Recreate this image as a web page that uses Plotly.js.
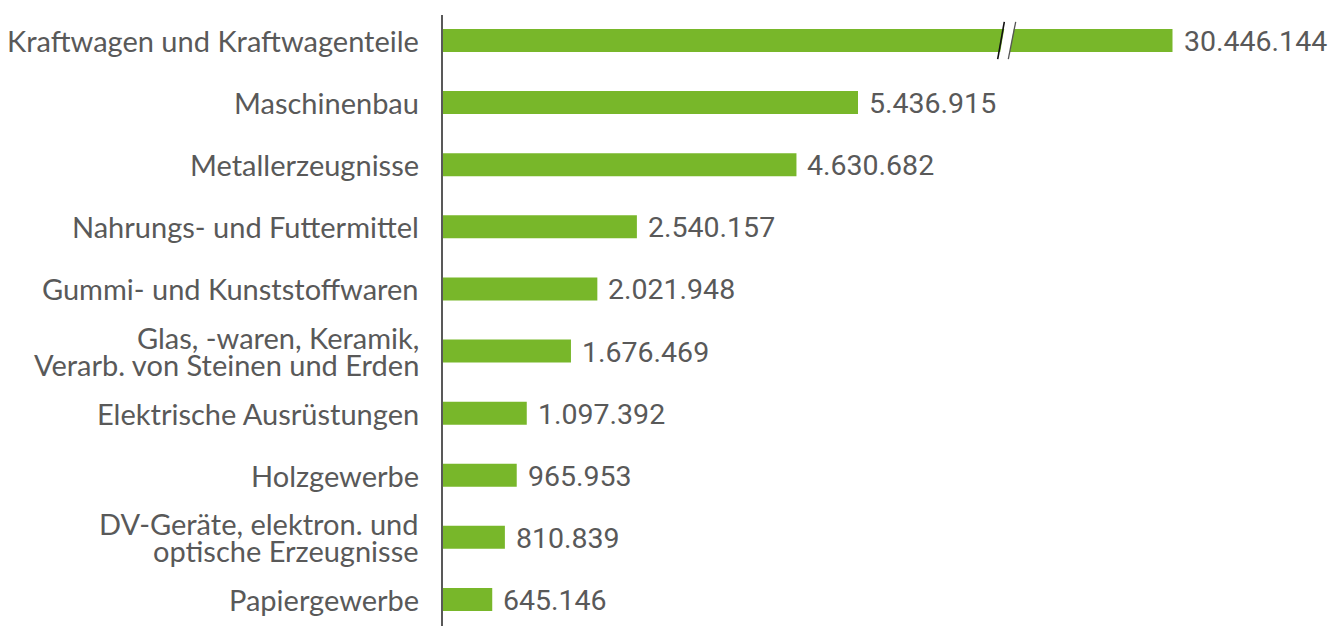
<!DOCTYPE html>
<html>
<head>
<meta charset="utf-8">
<script src="https://cdn.plot.ly/plotly-3.0.1.min.js"></script>
<style>html,body{margin:0;padding:0;background:#fff;}#chart{width:1341px;height:626px;}</style>
</head>
<body>
<div id="chart"></div>
<script>
// ---- data ----
const categories = [
  "Kraftwagen und Kraftwagenteile",
  "Maschinenbau",
  "Metallerzeugnisse",
  "Nahrungs- und Futtermittel",
  "Gummi- und Kunststoffwaren",
  "Glas, -waren, Keramik,<br>Verarb. von Steinen und Erden",
  "Elektrische Ausrüstungen",
  "Holzgewerbe",
  "DV-Geräte, elektron. und<br>optische Erzeugnisse",
  "Papiergewerbe"
];
const values = [30446144, 5436915, 4630682, 2540157, 2021948, 1676469, 1097392, 965953, 810839, 645146];
const brokenIndex = 0;

// ---- layout constants ----
const W = 1341, H = 626;
const ML = 443, MR = 0, MT = 15, MB = 0;
const plotW = W - ML - MR, plotH = H - MT - MB;
const pxPerUnit = 76.33 / 1e6;       // pixels per value unit
const breakPx = 1006;                 // pixel where the axis is broken
const brokenEndPx = 1172.5;           // pixel where the broken bar ends
const green = '#78b72a';
const grey = '#595959';

const d1 = (breakPx - ML) / plotW;
const range1 = [0, (breakPx - ML) / pxPerUnit];
const vb = values[brokenIndex];
const range2 = [vb - (brokenEndPx - breakPx) / pxPerUnit, vb + (W - MR - brokenEndPx) / pxPerUnit];

const ys = categories.map((c, i) => i);
const fmt = v => String(v).replace(/\B(?=(\d{3})+(?!\d))/g, '.');

const traces = [
  {type: 'bar', orientation: 'h', x: values, y: ys, xaxis: 'x', yaxis: 'y',
   marker: {color: green}, width: 0.37, hoverinfo: 'none'},
  {type: 'bar', orientation: 'h', x: [vb], y: [brokenIndex], xaxis: 'x2', yaxis: 'y',
   marker: {color: green}, width: 0.37, hoverinfo: 'none'}
];

const annotations = [];
values.forEach((v, i) => {
  annotations.push({
    x: v, y: i, xref: i === brokenIndex ? 'x2' : 'x', yref: 'y',
    text: fmt(v), showarrow: false, xanchor: 'left', yanchor: 'middle', xshift: 9, yshift: -1,
    font: {family: 'Roboto, sans-serif', size: 28.5, color: grey}
  });
});
// label font 29px, but line pitch of multi-line labels kept tight (~27px)
const labelSize = 29, linePitchSize = 21;
categories.forEach((c, i) => {
  const lines = c.split('<br>');
  const multi = lines.length > 1;
  const text = multi ? lines.map(l => `<span style="font-size:${labelSize}px">${l}</span>`).join('<br>') : c;
  annotations.push({
    x: 0, y: i, xref: 'paper', yref: 'y', text: text, showarrow: false,
    xanchor: 'right', yanchor: 'middle', xshift: -22, align: 'right',
    font: {family: 'Lato, sans-serif', size: multi ? linePitchSize : labelSize, color: grey}
  });
});

const px2paper = p => (p - ML) / plotW;
const bh = 0.30;
const shapes = [
  {type: 'path', xref: 'paper', yref: 'y', layer: 'above',
   path: `M ${px2paper(999)} ${brokenIndex + bh} L ${px2paper(1005.5)} ${brokenIndex - bh} L ${px2paper(1015)} ${brokenIndex - bh} L ${px2paper(1008.5)} ${brokenIndex + bh} Z`,
   fillcolor: '#ffffff', line: {width: 0}},
  {type: 'line', xref: 'paper', yref: 'y', x0: px2paper(997.7), y0: brokenIndex + bh, x1: px2paper(1004.3), y1: brokenIndex - bh,
   line: {color: '#111111', width: 1.6}},
  {type: 'line', xref: 'paper', yref: 'y', x0: px2paper(1008.3), y0: brokenIndex + bh, x1: px2paper(1015.7), y1: brokenIndex - bh,
   line: {color: '#555555', width: 1.3}}
];

const layout = {
  width: W, height: H,
  margin: {l: ML, r: MR, t: MT, b: MB, pad: 0},
  paper_bgcolor: '#ffffff', plot_bgcolor: '#ffffff',
  showlegend: false,
  xaxis: {domain: [0, d1], range: range1, visible: false, fixedrange: true},
  xaxis2: {domain: [d1, 1], range: range2, visible: false, anchor: 'y', fixedrange: true},
  yaxis: {range: [9.427, -0.41], showticklabels: false, showgrid: false, zeroline: false,
          showline: true, linecolor: grey, linewidth: 2, ticks: '', fixedrange: true},
  annotations: annotations,
  shapes: shapes
};

Plotly.newPlot('chart', traces, layout, {staticPlot: true, displayModeBar: false});
</script>
</body>
</html>
